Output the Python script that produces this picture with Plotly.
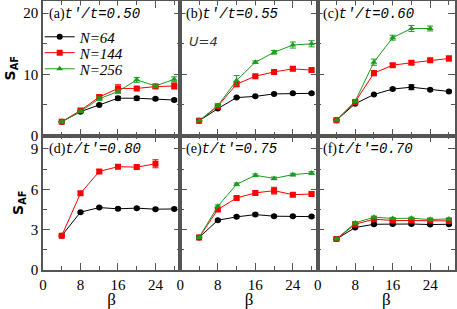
import plotly.graph_objects as go

beta = [4, 8, 12, 16, 20, 24, 28]

# Panel (a) t'/t=0.50
a_n64 = [2.25, 3.9, 5.0, 6.1, 6.1, 6.0, 5.8]
a_n144 = [2.25, 4.1, 6.3, 7.7, 7.7, 8.0, 8.1]
a_n256 = [2.25, 3.95, 6.0, 7.2, 9.1, 8.1, 9.2]
a_e64 = [0.05, 0.1, 0.15, 0.3, 0.3, 0.2, 0.2]
a_e144 = [0.05, 0.1, 0.3, 0.6, 0.3, 0.3, 0.5]
a_e256 = [0.05, 0.1, 0.3, 0.3, 0.4, 0.3, 0.4]

# Panel (b) t'/t=0.55
b_n64 = [2.4, 4.4, 6.2, 6.4, 6.8, 6.9, 6.9]
b_n144 = [2.4, 4.8, 8.4, 9.7, 10.4, 10.9, 10.7]
b_n256 = [2.4, 4.9, 9.0, 12.0, 13.6, 14.8, 15.0]
b_e64 = [0.05, 0.1, 0.15, 0.15, 0.15, 0.15, 0.15]
b_e144 = [0.05, 0.2, 0.4, 0.2, 0.2, 0.3, 0.2]
b_e256 = [0.05, 0.2, 0.8, 0.2, 0.3, 0.5, 0.5]

# Panel (c) t'/t=0.60
c_n64 = [2.5, 5.2, 6.7, 7.6, 7.9, 7.5, 7.2]
c_n144 = [2.5, 5.5, 10.2, 11.5, 11.9, 12.3, 12.6]
c_n256 = [2.5, 5.6, 12.0, 16.0, 17.5, 17.5]
c_e64 = [0.05, 0.1, 0.15, 0.2, 0.4, 0.2, 0.2]
c_e144 = [0.05, 0.2, 0.4, 0.3, 0.3, 0.3, 0.4]
c_e256 = [0.05, 0.2, 0.5, 0.4, 0.5, 0.4]

# Panel (d) t/t'=0.80
d_n64 = [2.55, 4.3, 4.64, 4.55, 4.6, 4.52, 4.54]
d_n144 = [2.55, 5.7, 7.33, 7.68, 7.65, 7.9]
d_e64 = [0.05, 0.08, 0.08, 0.08, 0.08, 0.08, 0.08]
d_e144 = [0.08, 0.12, 0.12, 0.12, 0.12, 0.3]

# Panel (e) t/t'=0.75
e_n64 = [2.42, 3.7, 3.95, 4.12, 4.0, 4.0, 3.97]
e_n144 = [2.42, 4.5, 5.36, 5.73, 5.9, 5.6, 5.65]
e_n256 = [2.42, 4.74, 6.37, 7.04, 6.81, 7.09, 7.21]
e_e64 = [0.05, 0.08, 0.08, 0.1, 0.08, 0.08, 0.08]
e_e144 = [0.05, 0.1, 0.1, 0.15, 0.25, 0.1, 0.1]
e_e256 = [0.05, 0.1, 0.1, 0.1, 0.1, 0.1, 0.1]

# Panel (f) t/t'=0.70
f_n64 = [2.3, 3.16, 3.4, 3.42, 3.42, 3.38, 3.4]
f_n144 = [2.3, 3.4, 3.78, 3.68, 3.68, 3.68, 3.65]
f_n256 = [2.3, 3.5, 3.93, 3.83, 3.85, 3.75, 3.8]
f_e = [0.05, 0.08, 0.08, 0.08, 0.08, 0.08, 0.08]

panel_labels = ["(a)", "(b)", "(c)", "(d)", "(e)", "(f)"]
panel_params = ["t′/t=0.50", "t′/t=0.55", "t′/t=0.60",
                "t/t′=0.80", "t/t′=0.75", "t/t′=0.70"]
series_names = ["N=64", "N=144", "N=256"]
x_ticks = [0, 8, 16, 24]
y_ticks_top = [0, 10, 20]
y_ticks_bot = [0, 3, 6, 9]

colors = ["black", "#ff0000", "#1a9e1a"]
symbols = ["circle", "square", "triangle-up"]
legend_ids = ["legend", "legend2", "legend3"]

panels = [
    [(a_n64, a_e64), (a_n144, a_e144), (a_n256, a_e256)],
    [(b_n64, b_e64), (b_n144, b_e144), (b_n256, b_e256)],
    [(c_n64, c_e64), (c_n144, c_e144), (c_n256, c_e256)],
    [(d_n64, d_e64), (d_n144, d_e144), None],
    [(e_n64, e_e64), (e_n144, e_e144), (e_n256, e_e256)],
    [(f_n64, f_e), (f_n144, f_e), (f_n256, f_e)],
]

fig = go.Figure()
serif = "Liberation Serif"
axis_color = "#555555"

for p in range(6):
    row, col = divmod(p, 3)
    idx = p + 1
    xa = "x" if idx == 1 else f"x{idx}"
    ya = "y" if idx == 1 else f"y{idx}"
    for s in range(3):
        entry = panels[p][s]
        if entry is None:
            continue
        vals, errs = entry
        fig.add_trace(go.Scatter(
            x=beta[:len(vals)], y=vals,
            error_y=dict(type="data", array=errs, visible=True,
                         color=colors[s], thickness=1, width=3),
            mode="lines+markers",
            line=dict(color=colors[s], width=1),
            marker=dict(color=colors[s], symbol=symbols[s], size=6,
                        line=dict(width=0)),
            name="<i>" + series_names[s] + "</i>",
            showlegend=(p == 0),
            legend=legend_ids[s],
            xaxis=xa, yaxis=ya,
        ))
    xdom = [col / 3, (col + 1) / 3]
    ydom = [0.5, 1.0] if row == 0 else [0.0, 0.5]
    key_x = "xaxis" if idx == 1 else f"xaxis{idx}"
    key_y = "yaxis" if idx == 1 else f"yaxis{idx}"
    fig.layout[key_x] = dict(
        domain=xdom, anchor=ya, range=[0, 29.3], automargin=False,
        tickvals=x_ticks, ticktext=[str(v) for v in x_ticks],
        showticklabels=(row == 1),
        ticks="inside", ticklen=7, tickwidth=1, tickcolor=axis_color,
        minor=dict(dtick=4, tick0=0, ticks="inside", ticklen=4,
                   tickcolor=axis_color, tickwidth=1),
        showline=True, linecolor=axis_color, linewidth=1.5, mirror="ticks",
        showgrid=False, zeroline=False,
        tickfont=dict(family=serif, size=15, color="black"),
        title=dict(text="β" if row == 1 else "",
                   font=dict(family=serif, size=17, color="black"), standoff=0),
    )
    yt = y_ticks_top if row == 0 else y_ticks_bot
    fig.layout[key_y] = dict(
        domain=ydom, anchor=xa, automargin=False,
        range=[0, 22] if row == 0 else [0, 10],
        tickvals=yt, ticktext=[str(v) for v in yt],
        showticklabels=(col == 0),
        ticks="inside", ticklen=7, tickwidth=1, tickcolor=axis_color,
        minor=dict(dtick=5 if row == 0 else 1.5, tick0=0, ticks="inside",
                   ticklen=4, tickcolor=axis_color, tickwidth=1),
        showline=True, linecolor=axis_color, linewidth=1.5, mirror="ticks",
        showgrid=False, zeroline=False,
        tickfont=dict(family=serif, size=15, color="black"),
        title=dict(text="<b>S</b><sub><b>AF</b></sub>" if col == 0 else "",
                   font=dict(family="DejaVu Sans", size=14, color="black"), standoff=4),
    )
    fig.add_annotation(
        xref=f"{xa} domain", yref=f"{ya} domain", x=0.035, y=0.9,
        xanchor="left", yanchor="middle", showarrow=False,
        text=panel_labels[p] + "<span style='font-family:Liberation Mono'><i>"
             + panel_params[p] + "</i></span>",
        font=dict(family=serif, size=14, color="black"),
        bgcolor="white", borderpad=0,
    )

fig.add_annotation(
    xref="x2 domain", yref="y2 domain", x=0.05, y=0.70,
    xanchor="left", yanchor="middle", showarrow=False,
    text="<i>U=4</i>", font=dict(family="DejaVu Sans", size=13, color="#333333"),
)

legend_y = [0.866, 0.807, 0.747]
legend_common = dict(x=-0.008, xanchor="left", yanchor="middle",
                     bgcolor="rgba(0,0,0,0)", itemwidth=30,
                     font=dict(family=serif, size=15, color="black"))

fig.update_layout(
    width=457, height=309,
    margin=dict(l=43, r=2, t=1, b=39),
    paper_bgcolor="white", plot_bgcolor="white",
    showlegend=True,
    legend=dict(y=legend_y[0], **legend_common),
    legend2=dict(y=legend_y[1], **legend_common),
    legend3=dict(y=legend_y[2], **legend_common),
)

fig.write_html("out.html", config={"displayModeBar": False},
               post_script="document.body.style.margin='0';")
